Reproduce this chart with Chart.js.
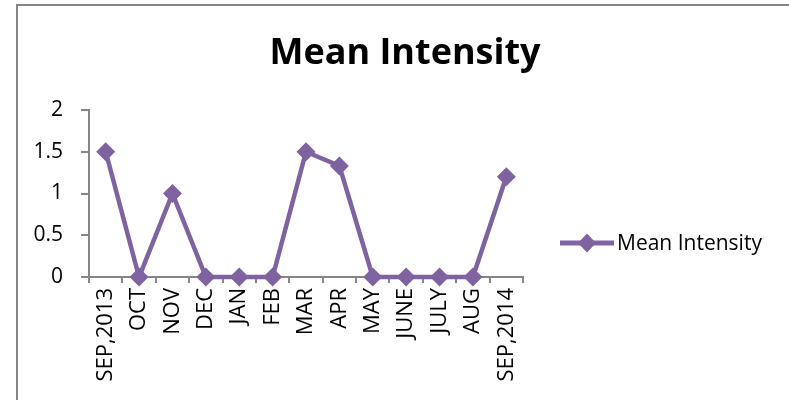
<!DOCTYPE html>
<html>
<head>
<meta charset="utf-8">
<script src="https://cdn.jsdelivr.net/npm/chart.js@4.4.1/dist/chart.umd.min.js"></script>
<style>
    html, body { margin: 0; padding: 0; background: #fff; overflow: hidden; width: 789px; height: 400px; }
    #frame {
        position: absolute; left: 16px; top: 4px;
        width: 780px; height: 400px;
        border-left: 2px solid #868686; border-top: 2px solid #868686;
    }
</style>
</head>
<body>
<div id="frame"><canvas id="myChart" width="780" height="394"></canvas></div>
<script>
const chartTitle = 'Mean Intensity';
const months = ['SEP,2013', 'OCT', 'NOV', 'DEC', 'JAN', 'FEB', 'MAR', 'APR', 'MAY', 'JUNE', 'JULY', 'AUG', 'SEP,2014'];
const meanIntensity = [1.5, 0, 1, 0, 0, 0, 1.5, 1.33, 0, 0, 0, 0, 1.2];
const yTicks = [0, 0.5, 1, 1.5, 2];

const seriesColor = '#7F63A1';
const axisColor = '#868686';
const fontFamily = '"Open Sans", "Liberation Sans", sans-serif';

// title centred on the whole frame, legend drawn by hand (line with a diamond on it)
const titleAndLegend = {
    id: 'titleAndLegend',
    afterDraw(chart) {
        const ctx = chart.ctx;
        const area = chart.chartArea;
        const ds = chart.data.datasets[0];
        ctx.save();

        ctx.fillStyle = '#000';
        ctx.font = 'bold 36px ' + fontFamily;
        ctx.textAlign = 'center';
        ctx.textBaseline = 'alphabetic';
        ctx.fillText(chartTitle, chart.width / 2 - 3, 58);

        const x0 = area.right + 37;
        const y = area.top + 133;
        ctx.strokeStyle = ds.borderColor;
        ctx.lineWidth = 5;
        ctx.beginPath();
        ctx.moveTo(x0, y);
        ctx.lineTo(x0 + 54, y);
        ctx.stroke();
        ctx.fillStyle = ds.backgroundColor;
        ctx.beginPath();
        ctx.moveTo(x0 + 27, y - 9.5);
        ctx.lineTo(x0 + 36, y);
        ctx.lineTo(x0 + 27, y + 9.5);
        ctx.lineTo(x0 + 18, y);
        ctx.closePath();
        ctx.fill();
        ctx.fillStyle = '#000';
        ctx.font = '21px ' + fontFamily;
        ctx.textAlign = 'left';
        ctx.textBaseline = 'middle';
        ctx.fillText(ds.label, x0 + 57, y + 1);
        ctx.restore();
    }
};

const ctx = document.getElementById('myChart').getContext('2d');
new Chart(ctx, {
    type: 'line',
    data: {
        labels: months,
        datasets: [{
            label: 'Mean Intensity',
            data: meanIntensity,
            borderColor: seriesColor,
            backgroundColor: seriesColor,
            borderWidth: 4.5,
            pointStyle: 'rectRot',
            pointRadius: 9.5,
            pointHoverRadius: 9.5,
            pointBorderWidth: 0,
            tension: 0,
            clip: false
        }]
    },
    options: {
        responsive: false,
        animation: false,
        events: [],
        layout: { padding: { left: 0, right: 275, top: 104, bottom: 0 } },
        plugins: {
            legend: { display: false },
            tooltip: { enabled: false },
            title: { display: false }
        },
        scales: {
            x: {
                offset: true,
                afterFit(scale) { scale.height = 123; },
                grid: {
                    display: true,
                    drawOnChartArea: false,
                    offset: true,
                    tickLength: 6,
                    color: axisColor,
                    lineWidth: 2
                },
                border: { display: true, color: axisColor, width: 2 },
                ticks: {
                    color: '#000',
                    minRotation: 90,
                    maxRotation: 90,
                    autoSkip: false,
                    padding: 5,
                    font: { family: fontFamily, size: 22 }
                }
            },
            y: {
                min: yTicks[0],
                max: yTicks[yTicks.length - 1],
                afterFit(scale) { scale.width = 71; },
                afterBuildTicks(scale) { scale.ticks = yTicks.map(v => ({ value: v })); },
                grid: {
                    display: true,
                    drawOnChartArea: false,
                    tickLength: 8,
                    color: axisColor,
                    lineWidth: 2
                },
                border: { display: true, color: axisColor, width: 2 },
                ticks: {
                    color: '#000',
                    padding: 18,
                    font: { family: fontFamily, size: 21 },
                    callback: v => String(v)
                }
            }
        }
    },
    plugins: [titleAndLegend]
});
</script>
</body>
</html>
